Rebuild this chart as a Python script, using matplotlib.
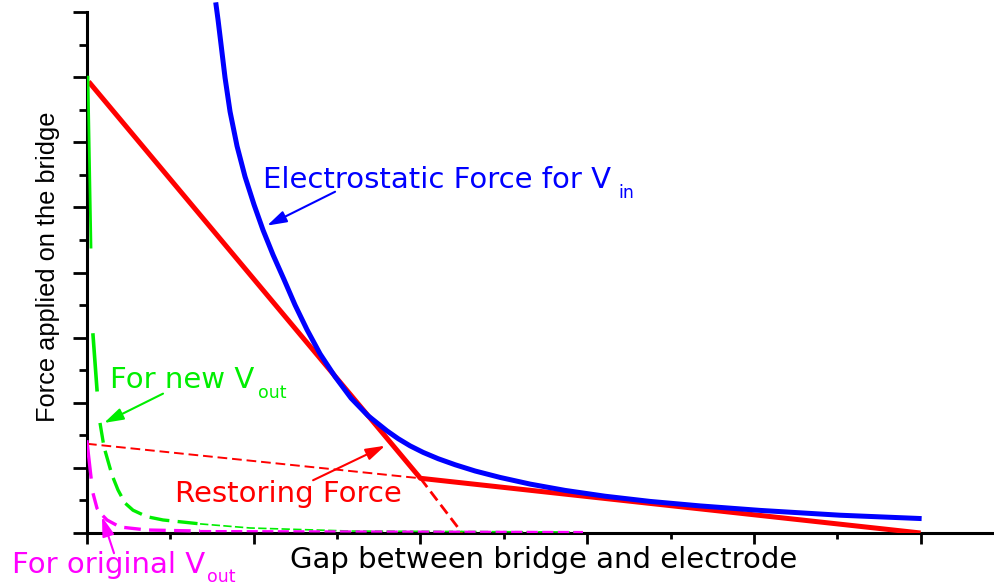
import matplotlib
matplotlib.use("Agg")
import matplotlib.pyplot as plt

# values (x: gap, y: force, arbitrary units)
restoring_x = [0.01, 2.0, 5.0]
restoring_y = [6.93, 0.84, 0.0]
steep_ext_x = [2.0, 2.25]
steep_ext_y = [0.84, 0.0]
shallow_ext_x = [0.0, 2.0]
shallow_ext_y = [1.37, 0.84]

elec_x = [0.774, 0.786, 0.804, 0.828, 0.858, 0.900, 0.948, 1.002, 1.056, 1.116,
          1.182, 1.248, 1.320, 1.398, 1.488, 1.584, 1.686, 1.800, 1.866, 1.938,
          2.016, 2.106, 2.208, 2.328, 2.478, 2.658, 2.868, 3.107, 3.377, 3.677,
          4.037, 4.517, 4.991]
elec_y = [8.11, 7.88, 7.50, 6.99, 6.47, 5.94, 5.47, 5.04, 4.65, 4.27,
          3.89, 3.50, 3.12, 2.75, 2.40, 2.07, 1.80, 1.567, 1.449, 1.338,
          1.238, 1.141, 1.048, 0.952, 0.853, 0.751, 0.654, 0.565, 0.485, 0.416,
          0.347, 0.273, 0.223]

# new Vout (green)
new_x = [0.006, 0.024, 0.036, 0.060, 0.078, 0.102, 0.150, 0.186, 0.228, 0.276,
         0.360, 0.456, 0.678, 0.978, 1.578, 2.975]
new_y = [7.00, 4.39, 3.04, 2.20, 1.69, 1.32, 0.89, 0.66, 0.46, 0.35,
         0.25, 0.20, 0.14, 0.077, 0.03, 0.015]

# original Vout (magenta)
orig_x = [0.0, 0.024, 0.036, 0.060, 0.078, 0.120, 0.198, 0.360, 0.678, 2.975]
orig_y = [1.40, 0.86, 0.61, 0.38, 0.31, 0.20, 0.092, 0.046, 0.03, 0.015]

RED = "#ff0000"
BLUE = "#0000ff"
GREEN = "#00ee00"
MAG = "#ff00ff"

fig = plt.figure(figsize=(9.94, 5.86), dpi=100)
ax = fig.add_axes([87 / 994, 53 / 586, 907 / 994, 521 / 586])

ax.plot(shallow_ext_x, shallow_ext_y, color=RED, lw=1.4, ls=(0, (5, 2.5)), zorder=3)
ax.plot(steep_ext_x, steep_ext_y, color=RED, lw=2.0, ls=(0, (4, 2)), zorder=3)
ax.plot(restoring_x, restoring_y, color=RED, lw=3.6, zorder=3, solid_capstyle="butt")
ax.plot(elec_x, elec_y, color=BLUE, lw=3.6, zorder=4, clip_on=False)

# green: thin solid top, short solid piece, thick dashes, thin dashes near axis
ax.plot(new_x[0:2], new_y[0:2], color=GREEN, lw=2.0, zorder=3)
ax.plot(new_x[2:4], new_y[2:4], color=GREEN, lw=2.6, zorder=3)
ax.plot(new_x[4:13], new_y[4:13], color=GREEN, lw=2.4, ls=(0, (6, 2.5)), zorder=3)
ax.plot(new_x[12:], new_y[12:], color=GREEN, lw=1.2, ls=(0, (5, 2)), zorder=3, clip_on=False)

# magenta
ax.plot(orig_x[0:2], orig_y[0:2], color=MAG, lw=2.4, zorder=3)
ax.plot(orig_x[2:9], orig_y[2:9], color=MAG, lw=2.4, ls=(0, (5, 2.5)), zorder=3)
ax.plot(orig_x[8:], orig_y[8:], color=MAG, lw=1.6, ls=(0, (5, 2)), zorder=3, clip_on=False)

ax.set_xlim(0, 5.44)
ax.set_ylim(0, 8)
ax.set_xticks([0, 1, 2, 3, 4, 5])
ax.set_xticks([0.5, 1.5, 2.5, 3.5, 4.5], minor=True)
ax.set_yticks(range(0, 9))
ax.set_yticks([i + 0.5 for i in range(8)], minor=True)
ax.set_xticklabels([])
ax.set_yticklabels([])
ax.tick_params(axis="both", which="both", direction="out", width=2, color="black")
ax.tick_params(axis="y", which="major", length=10)
ax.tick_params(axis="y", which="minor", length=5.5)
ax.tick_params(axis="x", which="major", length=8)
ax.tick_params(axis="x", which="minor", length=4.5)
for s in ["top", "right"]:
    ax.spines[s].set_visible(False)
for s in ["left", "bottom"]:
    ax.spines[s].set_linewidth(2.2)

fs = 21
sub = 12.5
fam = ["DejaVu Sans"]
arrow = dict(arrowstyle="-|>,head_length=0.65,head_width=0.2", lw=1.5, mutation_scale=18,
             shrinkA=0, shrinkB=0)

ax.annotate("", xy=(1.080, 4.72), xytext=(1.488, 5.24),
            arrowprops=dict(arrow, color=BLUE))
ax.text(1.056, 5.30, "Electrostatic Force for V", color=BLUE,
        fontsize=fs, family=fam, va="baseline", ha="left")
ax.text(3.185, 5.146, "in", color=BLUE, fontsize=sub, family=fam, va="baseline", ha="left")

ax.annotate("", xy=(0.102, 1.69), xytext=(0.456, 2.14),
            arrowprops=dict(arrow, color=GREEN))
ax.text(0.138, 2.23, "For new V", color=GREEN,
        fontsize=fs, family=fam, va="baseline", ha="left")
ax.text(1.026, 2.074, "out", color=GREEN, fontsize=sub, family=fam, va="baseline", ha="left")

ax.annotate("", xy=(1.788, 1.34), xytext=(1.356, 0.81),
            arrowprops=dict(arrow, color=RED))
ax.text(0.528, 0.476, "Restoring Force", color=RED,
        fontsize=fs, family=fam, va="baseline", ha="left")

ax.annotate("", xy=(0.090, 0.25), xytext=(0.162, -0.31),
            arrowprops=dict(arrow, color=MAG), annotation_clip=False)
ax.text(-0.45, -0.614, "For original V", color=MAG,
        fontsize=fs, family=fam, va="baseline", ha="left", clip_on=False)
ax.text(0.720, -0.753, "out", color=MAG, fontsize=sub, family=fam, va="baseline",
        ha="left", clip_on=False)

fig.text(544 / 994, 1 - 568 / 586, "Gap between bridge and electrode",
         fontsize=fs, family=fam, ha="center", va="baseline")
fig.text(48 / 994, 1 - 267 / 586, "Force applied on the bridge", rotation=90,
         fontsize=18.3, family=["Liberation Sans", "DejaVu Sans"], ha="center", va="center")

fig.savefig("out.png", dpi=100)
